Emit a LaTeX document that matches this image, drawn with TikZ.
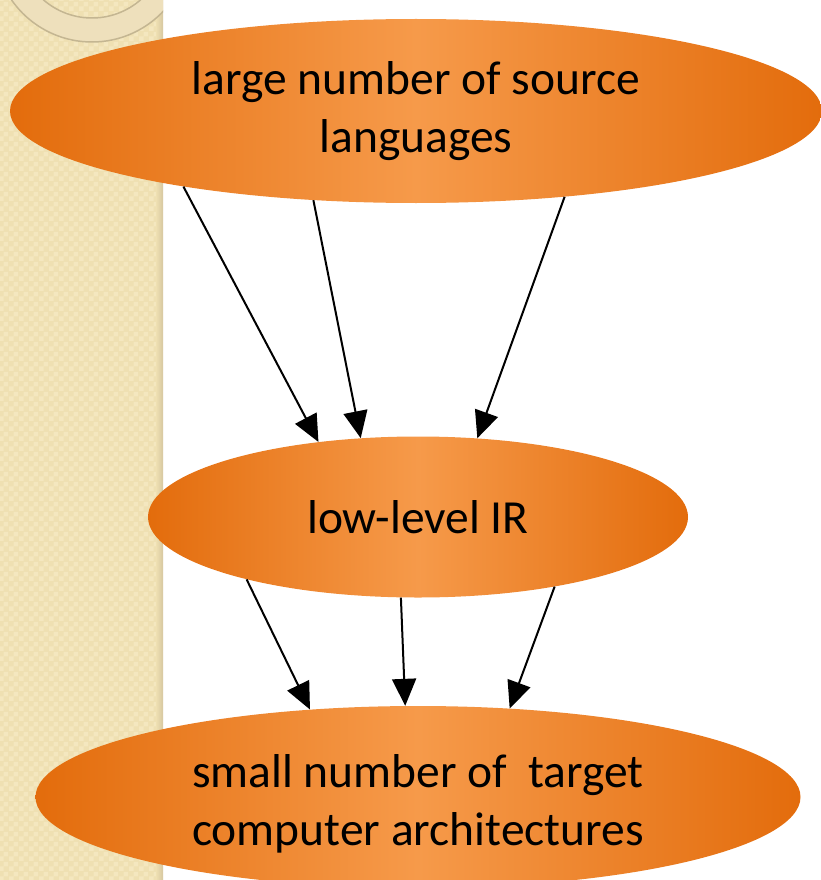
\documentclass[tikz,border=0pt]{standalone}
\usepackage{fontspec}
\setmainfont{Carlito}
\usetikzlibrary{shapes.geometric,arrows.meta,patterns}

\definecolor{edgeorange}{RGB}{227,108,12}
\definecolor{midorange}{RGB}{246,154,74}
\definecolor{paper}{RGB}{239,224,178}
\definecolor{paperlight}{RGB}{248,236,200}
\definecolor{papershade}{RGB}{214,199,160}
\definecolor{ringfill}{RGB}{238,224,188}
\definecolor{ringline}{RGB}{196,182,146}

% small checker weave for the side band
\pgfdeclarepatternformonly{paperweave}{\pgfpointorigin}{\pgfpoint{10pt}{10pt}}{\pgfpoint{10pt}{10pt}}{%
  \pgfpathrectangle{\pgfpointorigin}{\pgfpoint{5pt}{5pt}}%
  \pgfpathrectangle{\pgfpoint{5pt}{5pt}}{\pgfpoint{5pt}{5pt}}%
  \pgfusepath{fill}}

\tikzset{
  blob/.style={shape=ellipse, draw=none, inner sep=0pt,
    left color=edgeorange, right color=edgeorange, middle color=midorange,
    align=center, text=black,
    font=\fontsize{47.5}{58}\selectfont},
  flow/.style={line width=2pt, draw=black,
    -{Triangle[length=27pt,width=24pt]}}
}

\begin{document}
\begin{tikzpicture}[x=1pt,y=-1pt]
  \useasboundingbox (0,0) rectangle (821,880);
  \clip (0,0) rectangle (821,880);

  % beige side band with a soft shadow on its right edge
  \fill[paper] (0,0) rectangle (163,880);
  \fill[pattern=paperweave, pattern color=paperlight, opacity=0.6] (0,0) rectangle (163,880);
  \fill[left color=paper, right color=papershade] (156,0) rectangle (163,880);

  % ring ornament in the top corner
  \begin{scope}
    \clip (0,0) rectangle (163,880);
    \fill[ringfill, even odd rule, draw=ringline, line width=1.5pt]
      (92,-56) circle[radius=98] (92,-56) circle[radius=74];
  \end{scope}

  % the three stages
  \node[blob, minimum width=812, minimum height=184] (src) at (416,111)
    {large number of source\\languages};
  \node[blob, minimum width=540, minimum height=161] (ir) at (418,517)
    {low-level IR};
  \node[blob, minimum width=765, minimum height=182] (tgt) at (418,797)
    {\rule{0pt}{47pt}small number of~ target\\computer architectures};

  % source languages to IR
  \draw[flow] (src.198) -- (ir.143.4);
  \draw[flow] (src.221.4) -- (ir.126.2);
  \draw[flow] (src.330) -- (ir.53.4);

  % IR to target architectures
  \draw[flow] (ir.200.3) -- (tgt.141.2);
  \draw[flow] (ir.258.8) -- (tgt.98);
  \draw[flow] (ir.333.6) -- (tgt.44.1);
\end{tikzpicture}
\end{document}
